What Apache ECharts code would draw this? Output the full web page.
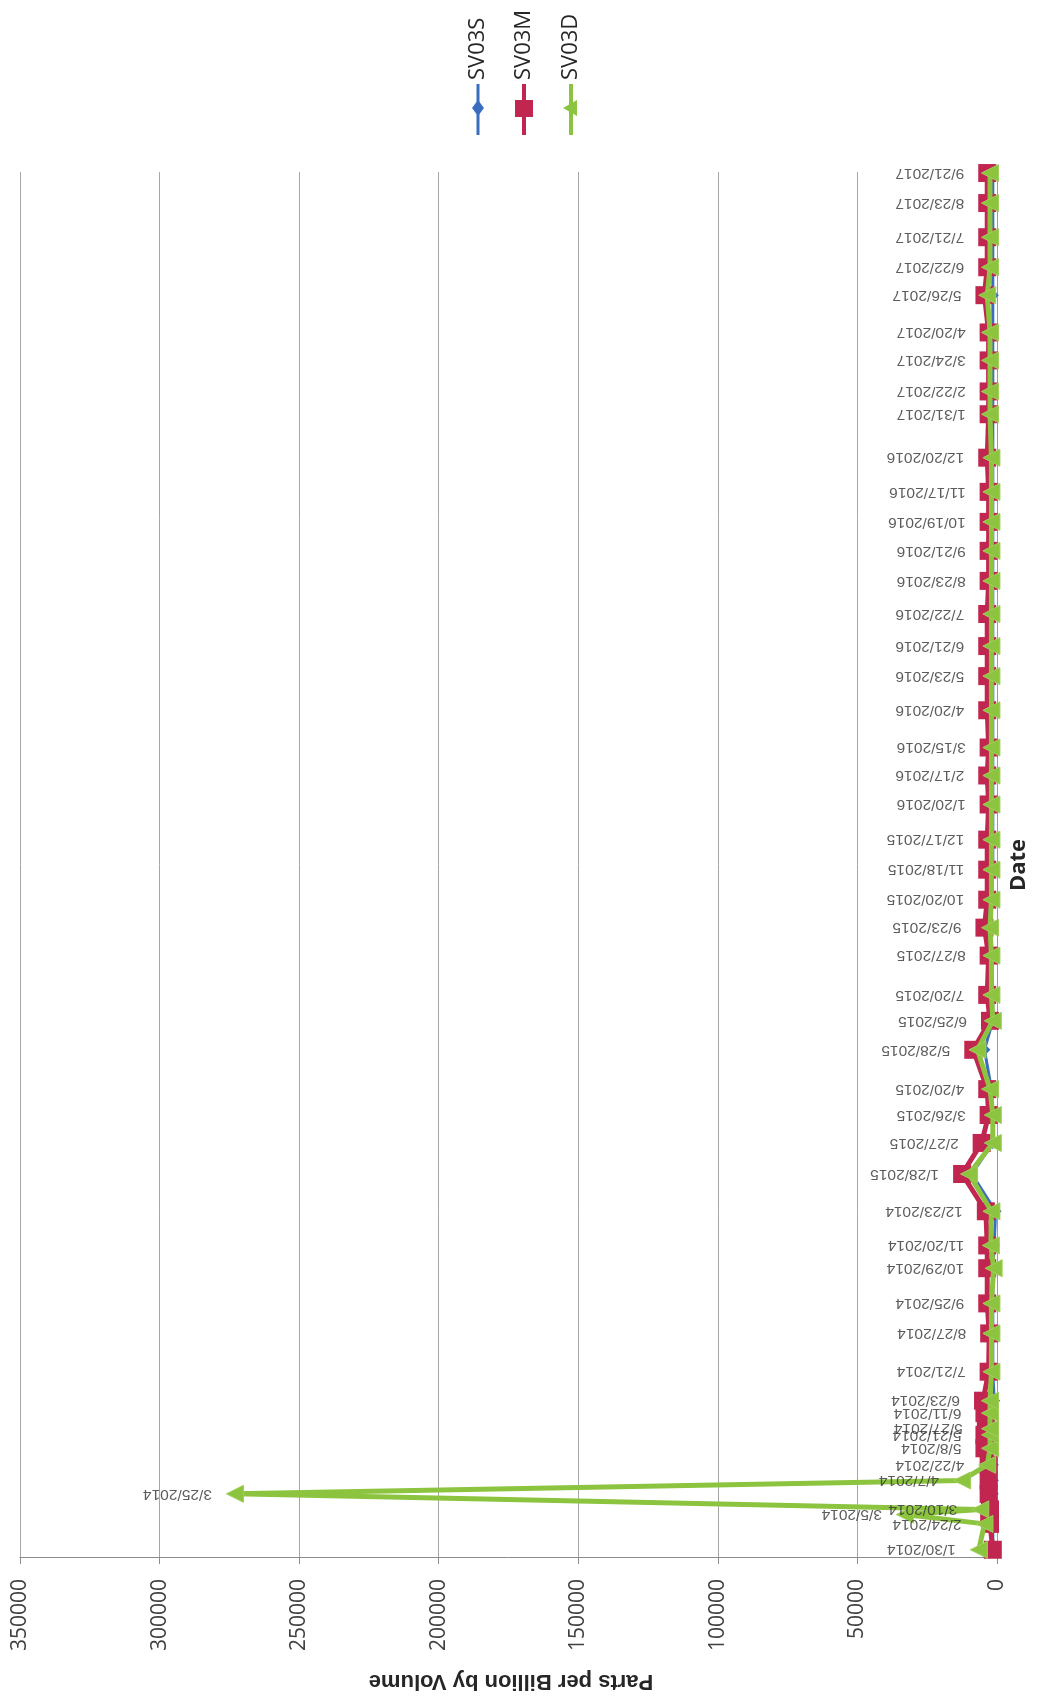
<!DOCTYPE html>
<html><head><meta charset="utf-8">
<script src="https://cdn.jsdelivr.net/npm/echarts@6/dist/echarts.min.js"></script>
<style>html,body{margin:0;padding:0;background:#fff}#c{width:1040px;height:1701px}</style>
</head><body><div id="c"></div>
<script>
// ---- data ----
const dates = ['1/30/2014','2/24/2014','3/5/2014','3/10/2014','3/25/2014','4/7/2014','4/22/2014','5/8/2014','5/21/2014','5/27/2014','6/11/2014','6/23/2014','7/21/2014','8/27/2014','9/25/2014','10/29/2014','11/20/2014','12/23/2014','1/28/2015','2/27/2015','3/26/2015','4/20/2015','5/28/2015','6/25/2015','7/20/2015','8/27/2015','9/23/2015','10/20/2015','11/18/2015','12/17/2015','1/20/2016','2/17/2016','3/15/2016','4/20/2016','5/23/2016','6/21/2016','7/22/2016','8/23/2016','9/21/2016','10/19/2016','11/17/2016','12/20/2016','1/31/2017','2/22/2017','3/24/2017','4/20/2017','5/26/2017','6/22/2017','7/21/2017','8/23/2017','9/21/2017'];
const sv03s = [1500,1500,1500,1500,1500,1500,1500,1500,1500,1500,1500,1000,1500,1500,1500,1500,1000,500,9000,1500,1500,2000,4500,1500,1500,2000,4500,2000,1500,1500,1500,1500,1500,1500,1500,1500,1500,1500,1500,1500,1500,1500,1500,1500,1500,1500,1500,1500,1500,1500,1500];
const sv03m = [1500,2500,2800,2500,3000,3000,3000,4500,4500,4000,4500,5000,3000,2800,3500,3500,3500,4000,12500,5500,3000,3500,8500,2500,3500,3000,4500,3500,3500,3500,3000,3500,3000,3500,3500,3500,3500,3000,3000,3000,3000,3500,3000,3000,3000,3000,4500,3500,3500,3500,3500];
const sv03d = [6500,4500,33000,6000,273000,12500,3500,2500,2500,2500,2500,2500,2000,2000,2000,1200,2200,2000,10000,1500,1500,2500,7000,1500,2000,2000,2500,2000,2000,2000,2000,2000,2000,2000,2000,2000,2000,2000,2000,2000,2000,2000,2500,2500,2500,2500,3500,2500,2500,2500,2500];
const seriesNames = ['SV03S','SV03M','SV03D'];
const valueMin = 0, valueMax = 350000, valueStep = 50000;
const dateMin = '1/23/2014', dateMax = '9/22/2017';
const valueTitle = 'Parts per Billion by Volume';
const dateTitle = 'Date';

const colors = ['#3a6cc0', '#c0264f', '#8cc43f'];

function ts(s){ const p = s.split('/').map(Number); return Date.UTC(p[2], p[0]-1, p[1]); }
function pairs(arr){ return arr.map((v,i)=>[v, ts(dates[i])]); }
const labelPts = dates.map((d,i)=>[Math.max(sv03s[i], sv03m[i], sv03d[i]), ts(d)]);

// legend drawn rotated (the page is a rotated chart)
const legendX = [478, 524, 571];
const legendGraphics = [];
seriesNames.forEach((n,i)=>{
  const x = legendX[i], c = colors[i];
  legendGraphics.push({type:'line', shape:{x1:x,y1:84,x2:x,y2:135}, style:{stroke:c, lineWidth: i===0?3:4}});
  if (i===0) legendGraphics.push({type:'polygon', shape:{points:[[x,100],[x+6,108],[x,116],[x-6,108]]}, style:{fill:c}});
  if (i===1) legendGraphics.push({type:'rect', shape:{x:x-9,y:100,width:18,height:17}, style:{fill:c}});
  if (i===2) legendGraphics.push({type:'polygon', shape:{points:[[x-8,108],[x+6,100],[x+6,116]]}, style:{fill:c}});
  legendGraphics.push({type:'text', x:x, y:80, rotation:Math.PI/2,
    style:{text:n, fill:'#262626', font:'22px "Open Sans"', align:'left', verticalAlign:'middle'}});
});

const chart = echarts.init(document.getElementById('c'), null, {renderer:'canvas'});
chart.setOption({
  animation:false,
  backgroundColor:'#ffffff',
  grid:{left:20, right:43, top:172, bottom:144, containLabel:false, outerBoundsMode:'none'},
  xAxis:{
    type:'value', min:valueMin, max:valueMax, interval:valueStep, inverse:true, position:'bottom',
    axisLine:{show:true, onZero:false, lineStyle:{color:'#8c8c8c', width:1}},
    axisTick:{show:true, inside:false, length:7, lineStyle:{color:'#8c8c8c'}},
    axisLabel:{rotate:90, margin:22, fontSize:21, fontFamily:'Open Sans', color:'#404040', formatter:v=>String(v)},
    splitLine:{show:true, lineStyle:{color:'#a6a6a6', width:1}}
  },
  yAxis:{
    type:'time', min:ts(dateMin), max:ts(dateMax), position:'right',
    axisLine:{show:true, onZero:false, lineStyle:{color:'#9a9a9a', width:1}},
    axisTick:{show:false}, axisLabel:{show:false}, splitLine:{show:false}
  },
  series:[
    {name:seriesNames[0], type:'line', data:pairs(sv03s), symbol:'diamond', symbolSize:12,
     lineStyle:{color:colors[0], width:3}, itemStyle:{color:colors[0]}, z:2},
    {name:seriesNames[1], type:'line', data:pairs(sv03m), symbol:'rect', symbolSize:18,
     lineStyle:{color:colors[1], width:5}, itemStyle:{color:colors[1]}, z:3},
    {name:seriesNames[2], type:'line', data:pairs(sv03d), symbol:'triangle', symbolRotate:90, symbolSize:17,
     lineStyle:{color:colors[2], width:5}, itemStyle:{color:colors[2], borderColor:'#9fcf5a', borderWidth:1}, z:4},
    {name:'dateLabels', type:'scatter', data:labelPts, symbolSize:18, silent:true, z:10,
     itemStyle:{color:'rgba(0,0,0,0)'},
     label:{show:true, position:'left', distance:14, rotate:180, align:'left', verticalAlign:'middle',
       formatter:p=>dates[p.dataIndex], fontFamily:'Liberation Sans', fontSize:15.5, color:'#333333'}}
  ],
  graphic: legendGraphics.concat([
    {type:'text', x:511, y:1681, rotation:Math.PI,
     style:{text:valueTitle, fill:'#262626', font:'bold 22px "Liberation Sans"', align:'center', verticalAlign:'middle'}},
    {type:'text', x:1019, y:865, rotation:Math.PI/2,
     style:{text:dateTitle, fill:'#262626', font:'bold 22px "Open Sans"', align:'center', verticalAlign:'middle'}}
  ])
});
</script></body></html>
